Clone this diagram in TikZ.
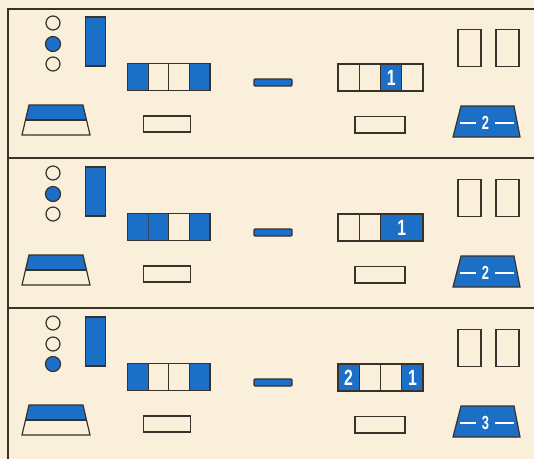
\documentclass[tikz,border=0pt]{standalone}
\usepackage{fontspec}
\setmainfont{Liberation Sans}
\usepackage{graphicx}
\definecolor{bg}{HTML}{F9EFDB}
\definecolor{bl}{HTML}{1C6FC6}
\definecolor{ink}{HTML}{3A322A}
\newcommand\pancommon{%
  % indicator lamps
  \draw[ol] (53,23) circle (7);
  \draw[ol] (53,44) circle (7);
  \draw[ol] (53,64) circle (7);
  % tall blue block
  \draw[bf] (85.5,17) rectangle (105.5,66);
  % left trapezoid (blue top half)
  \fill[bl] (29,105) -- (83,105) -- (86.5,120) -- (25.5,120) -- cycle;
  \draw[ol] (29,105) -- (83,105) -- (90,135) -- (22,135) -- cycle;
  \draw[ol] (25.5,120) -- (86.5,120);
  % small empty rectangles
  \draw[ol] (143.5,116) rectangle (190.5,132);
  \draw[ol] (355,116.5) rectangle (405,133);
  % middle dash
  \draw[bf,rounded corners=1pt] (254,79) rectangle (292,86);
  % two empty tall rectangles
  \draw[ol] (458,29.5) rectangle (481,66.5);
  \draw[ol] (496,29.5) rectangle (519,66.5);
  % right trapezoid
  \draw[bf] (461,106) -- (514,106) -- (520,137) -- (453,137) -- cycle;
  \draw[wl] (460,123) -- (476,123);
  \draw[wl] (495,123) -- (514,123);
}
\begin{document}
\begin{tikzpicture}[x=1pt,y=-1pt,line join=miter,
  ol/.style={draw=ink,line width=1.2pt},
  bf/.style={ol,fill=bl},
  wl/.style={draw=white,line width=2pt},
  num/.style={text=white,font=\bfseries\fontsize{22}{22}\selectfont,inner sep=0pt},
  tnum/.style={text=white,font=\bfseries\fontsize{19}{19}\selectfont,inner sep=0pt},
  fr/.style={draw=ink,line width=1.5pt}]
\fill[bg] (0,0) rectangle (534,459);
\useasboundingbox (0,0) rectangle (534,459);
% frame
\draw[fr] (534,9) -- (8,9) -- (8,459);
\draw[fr] (8,158) -- (534,158);
\draw[fr] (8,308) -- (534,308);

% ---------- panel 1 ----------
\begin{scope}
  \pancommon
  \draw[ol,fill=bl] (53,44) circle (7.5);
  % left register: cells 1 and 4 blue
  \fill[bl] (127.5,63.5) rectangle (148.1,90.5);
  \fill[bl] (189.4,63.5) rectangle (210,90.5);
  \draw[ol] (127.5,63.5) rectangle (210,90.5);
  \foreach \x in {148.1,168.8,189.4} \draw[ol] (\x,63.5) -- (\x,90.5);
  % right register: cell 3 blue with 1
  \fill[bl] (380.5,64) rectangle (401.8,91);
  \draw[ol] (338,64) rectangle (423,91);
  \foreach \x in {359.2,380.5,401.8} \draw[ol] (\x,64) -- (\x,91);
  \node[num] (r1a) at (391.2,78) {\scalebox{0.72}[1]{1}};
  \node[tnum] (t1) at (485.5,123) {\scalebox{0.68}[1]{2}};
\end{scope}

% ---------- panel 2 ----------
\begin{scope}[shift={(0,150)}]
  \pancommon
  \draw[ol,fill=bl] (53,44) circle (7.5);
  % left register: cells 1,2 and 4 blue
  \fill[bl] (127.5,63.5) rectangle (168.8,90.5);
  \fill[bl] (189.4,63.5) rectangle (210,90.5);
  \draw[ol] (127.5,63.5) rectangle (210,90.5);
  \draw[draw=ink!60!bl,line width=0.6pt] (148.1,63.5) -- (148.1,90.5);
  \foreach \x in {168.8,189.4} \draw[ol] (\x,63.5) -- (\x,90.5);
  % right register: cells 3-4 blue with 1
  \fill[bl] (380.5,64) rectangle (423,91);
  \draw[ol] (338,64) rectangle (423,91);
  \foreach \x in {359.2,380.5} \draw[ol] (\x,64) -- (\x,91);
  \node[num] (r2a) at (401.8,78) {\scalebox{0.72}[1]{1}};
  \node[tnum] (t2) at (485.5,123) {\scalebox{0.68}[1]{2}};
\end{scope}

% ---------- panel 3 ----------
\begin{scope}[shift={(0,300)}]
  \pancommon
  \draw[ol,fill=bl] (53,64) circle (7.5);
  % left register: cells 1 and 4 blue
  \fill[bl] (127.5,63.5) rectangle (148.1,90.5);
  \fill[bl] (189.4,63.5) rectangle (210,90.5);
  \draw[ol] (127.5,63.5) rectangle (210,90.5);
  \foreach \x in {148.1,168.8,189.4} \draw[ol] (\x,63.5) -- (\x,90.5);
  % right register: cell 1 "2", cell 4 "1"
  \fill[bl] (338,64) rectangle (359.2,91);
  \fill[bl] (401.8,64) rectangle (423,91);
  \draw[ol] (338,64) rectangle (423,91);
  \foreach \x in {359.2,380.5,401.8} \draw[ol] (\x,64) -- (\x,91);
  \node[num] (r3a) at (348.6,78) {\scalebox{0.72}[1]{2}};
  \node[num] (r3b) at (412.4,78) {\scalebox{0.72}[1]{1}};
  \node[tnum] (t3) at (485.5,123) {\scalebox{0.68}[1]{3}};
\end{scope}
\end{tikzpicture}
\end{document}
